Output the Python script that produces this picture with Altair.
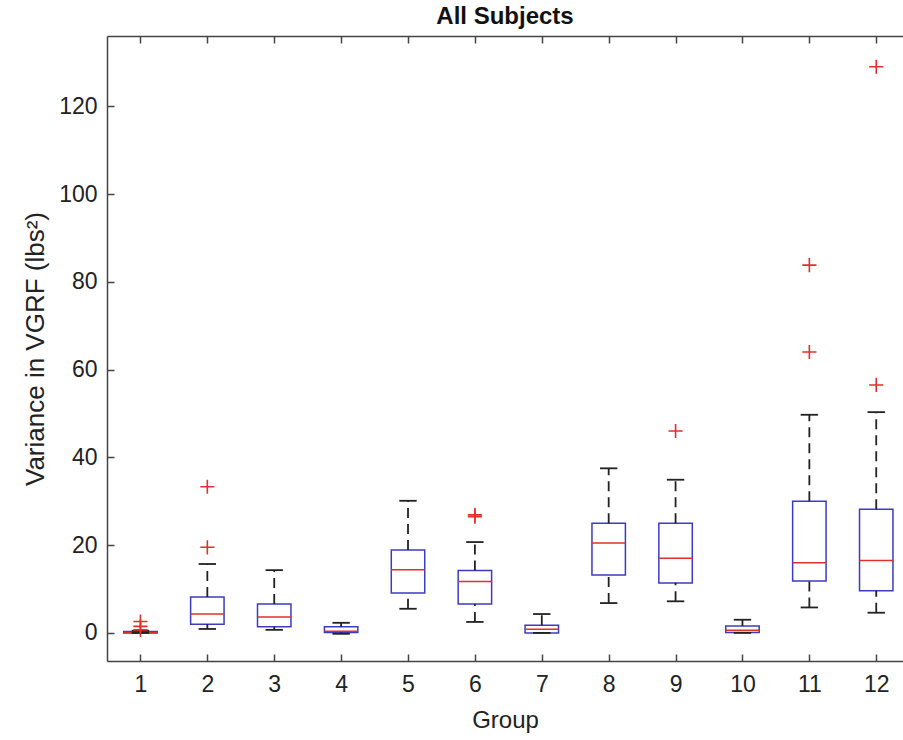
import altair as alt
import pandas as pd

groups = [1, 2, 3, 4, 5, 6, 7, 8, 9, 10, 11, 12]
q1 = [0.0, 2.0, 1.4, 0.1, 9.1, 6.6, 0.0, 13.2, 11.4, 0.1, 11.8, 9.6]
median = [0.1, 4.3, 3.6, 0.4, 14.4, 11.7, 0.85, 20.5, 17.0, 0.6, 16.0, 16.5]
q3 = [0.3, 8.2, 6.6, 1.4, 18.9, 14.2, 1.75, 25.0, 25.0, 1.6, 30.0, 28.2]
whisk_lo = [0.0, 0.9, 0.7, -0.2, 5.5, 2.5, 0.0, 6.8, 7.2, 0.0, 5.8, 4.6]
whisk_hi = [0.5, 15.7, 14.3, 2.3, 30.1, 20.7, 4.3, 37.5, 34.9, 3.0, 49.7, 50.3]

outlier_group = [1, 1, 1, 2, 2, 6, 6, 9, 11, 11, 12, 12]
outlier_value = [0.7, 1.5, 2.6, 19.5, 33.3, 26.5, 26.9, 46.0, 64.0, 83.8, 56.5, 129.0]

y_ticks = [0, 20, 40, 60, 80, 100, 120]

W, H = 796, 625
FONT = "Liberation Sans"
BLUE = "#3b3bc4"
RED = "#e0302a"
BLACK = "#222222"
AXIS = "#444444"

df = pd.DataFrame({"group": groups, "q1": q1, "median": median, "q3": q3,
                   "lo": whisk_lo, "hi": whisk_hi})
out_df = pd.DataFrame({"group": outlier_group, "value": outlier_value})

xs = alt.Scale(domain=[0.5, 12.4], nice=False, zero=False)
ys = alt.Scale(domain=[-6.4, 136], nice=False, zero=False)

base = alt.Chart(df).transform_calculate(
    bx1="datum.group - 0.25", bx2="datum.group + 0.25",
    cx1="datum.group - 0.13", cx2="datum.group + 0.13",
)

main_x_axis = alt.Axis(values=groups, tickSize=0, labelFontSize=23, labelFont=FONT,
                       labelColor="#222", labelPadding=12, title="Group",
                       titleFont=FONT, titleFontSize=24, titleFontWeight="normal",
                       titleColor="#222", titlePadding=12, domainColor=AXIS,
                       domainWidth=1.5, grid=False, orient="bottom")
main_y_axis = alt.Axis(values=y_ticks, tickSize=0, labelFontSize=23, labelFont=FONT,
                       labelColor="#222", labelPadding=10,
                       title="Variance in VGRF (lbs²)", titleFont=FONT,
                       titleFontSize=26, titleFontWeight="normal", titleColor="#222",
                       titlePadding=10, domainColor=AXIS, domainWidth=1.5, grid=False,
                       orient="left")

# boxes carry the main axes
boxes = base.mark_rect(fill="white", fillOpacity=0, stroke=BLUE, strokeWidth=1.5).encode(
    x=alt.X("bx1:Q", scale=xs, axis=main_x_axis),
    x2="bx2:Q",
    y=alt.Y("q1:Q", scale=ys, axis=main_y_axis),
    y2="q3:Q",
)

# inner ticks: bottom edge (pointing up) and left edge (pointing right)
inner_x_axis = alt.Axis(values=groups, orient="top", offset=-H, tickSize=7,
                        tickColor=AXIS, tickWidth=1.5, labels=False, domain=False,
                        title=None, grid=False)
inner_y_axis = alt.Axis(values=y_ticks, orient="right", offset=-W, tickSize=7,
                        tickColor=AXIS, tickWidth=1.5, labels=False, domain=False,
                        title=None, grid=False)
medians = base.mark_rule(color=RED, strokeWidth=1.5).encode(
    x=alt.X("bx1:Q", scale=xs, axis=inner_x_axis),
    x2="bx2:Q",
    y=alt.Y("median:Q", scale=ys, axis=inner_y_axis),
)

# top border with ticks pointing down
top_axis = alt.Axis(values=groups, orient="bottom", offset=-H, tickSize=7,
                    tickColor=AXIS, tickWidth=1.5, labels=False, domain=True,
                    domainColor=AXIS, domainWidth=1.5, title=None, grid=False)
upper_whisker = base.mark_rule(color=BLACK, strokeWidth=1.8, strokeDash=[10, 6]).encode(
    x=alt.X("group:Q", scale=xs, axis=top_axis),
    y=alt.Y("q3:Q", scale=ys, axis=None),
    y2="hi:Q",
)
lower_whisker = base.mark_rule(color=BLACK, strokeWidth=1.8, strokeDash=[10, 6]).encode(
    x=alt.X("group:Q", scale=xs, axis=None),
    y=alt.Y("lo:Q", scale=ys, axis=None),
    y2="q1:Q",
)
cap_hi = base.mark_rule(color=BLACK, strokeWidth=1.8).encode(
    x=alt.X("cx1:Q", scale=xs, axis=None), x2="cx2:Q",
    y=alt.Y("hi:Q", scale=ys, axis=None),
)
cap_lo = base.mark_rule(color=BLACK, strokeWidth=1.8).encode(
    x=alt.X("cx1:Q", scale=xs, axis=None), x2="cx2:Q",
    y=alt.Y("lo:Q", scale=ys, axis=None),
)
outliers = alt.Chart(out_df).mark_point(
    shape="M-1,0H1M0,-1V1", filled=False, stroke=RED, strokeWidth=1.6, size=200, opacity=1
).encode(
    x=alt.X("group:Q", scale=xs, axis=None),
    y=alt.Y("value:Q", scale=ys, axis=None),
)

chart = alt.layer(
    boxes, medians, upper_whisker, lower_whisker, cap_hi, cap_lo, outliers
).resolve_axis(x="independent", y="independent").properties(
    width=W, height=H,
    title=alt.TitleParams("All Subjects", font=FONT, fontSize=24, fontWeight="bold",
                          color="#111", anchor="middle", offset=6),
    autosize=alt.AutoSizeParams(type="none"),
    padding={"left": 107, "top": 36, "right": 0, "bottom": 79},
).configure_view(stroke=None).configure(background="white")

chart.save("out.html", embed_options={"renderer": "svg", "actions": False})
